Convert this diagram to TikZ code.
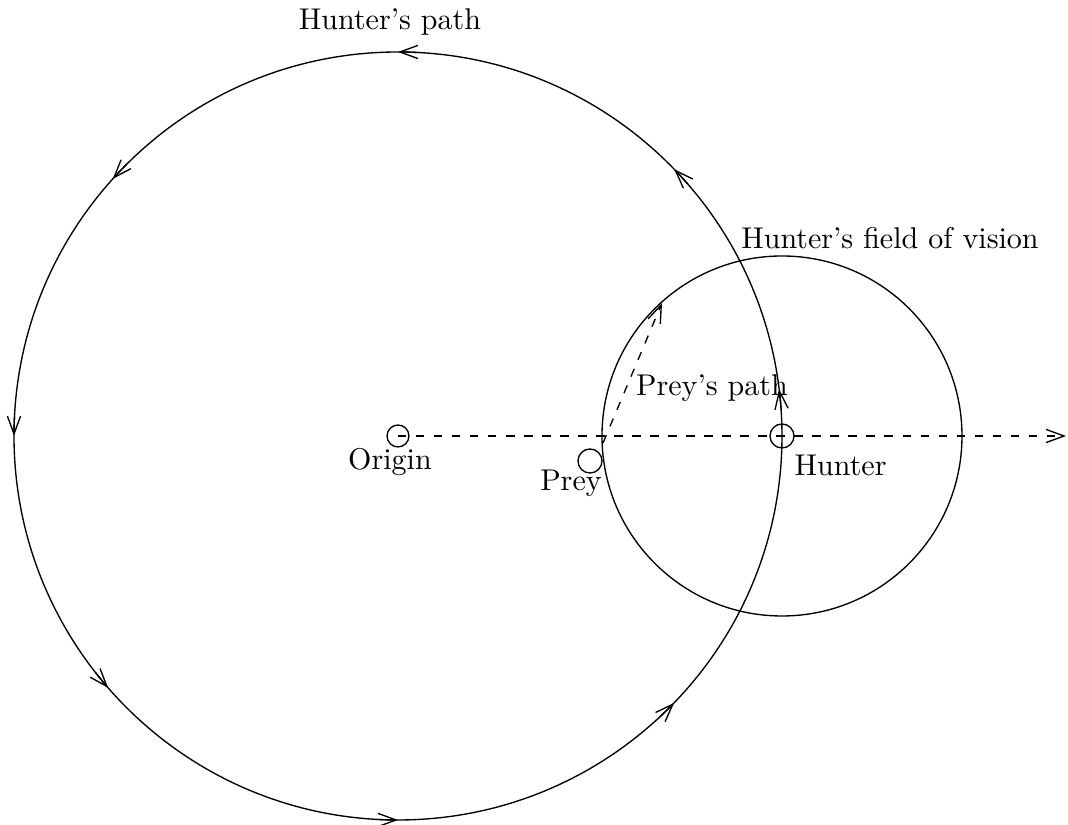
\documentclass[tikz,border=0pt]{standalone}
\usetikzlibrary{arrows.meta}
\tikzset{
  marker/.style={draw,circle,inner sep=0pt,minimum size=8pt},
  rayline/.style={dash pattern=on 2.8pt off 3.2pt},
}
\begin{document}
\begin{tikzpicture}[x=0.0117cm,y=0.0117cm,line width=0.45pt,
    >={Straight Barb[length=6pt,width=4.4pt]}]
  \useasboundingbox (-398,-389) rectangle (670,436);
  % hunter's path and field of vision
  \draw (0,0) circle (384);
  \draw (384,0) circle (180);
  \foreach \a in {7,44,90,138,180,221,270,316}
    \draw[->] ({\a-3}:384) arc ({\a-3}:\a:384);
  % markers
  \node[marker,minimum size=7.3pt] (origin) at (0,0) {};
  \node[marker] (prey) at (192,-25) {};
  \node[marker] (hunter) at (384,0) {};
  \coordinate (rayend) at (668,0);
  \coordinate (preystart) at (205,-7);
  \coordinate (preyend) at (264,133);
  \draw[->,rayline] (origin.center) -- (rayend);
  \draw[->,rayline] (preystart) -- (preyend);
  % labels
  \node (originlabel) at (-8,-26) {Origin};
  \node (preylabel) at (173,-47) {Prey};
  \node[anchor=west] (hunterlabel) at (386,-29) {Hunter};
  \node (preypathlabel) at (314,48) {Prey's path};
  \node (pathlabel) at (-8,414) {Hunter's path};
  \node (visionlabel) at (492,198) {Hunter's field of vision};
\end{tikzpicture}
\end{document}
